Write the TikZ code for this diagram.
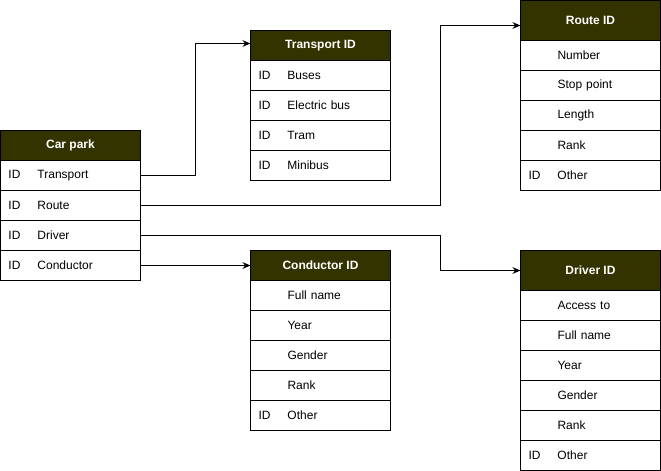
\documentclass[tikz,border=0pt]{standalone}
\usepackage{fontspec}
\setmainfont{Liberation Sans}
\usetikzlibrary{arrows.meta,positioning}
\definecolor{headOlive}{RGB}{51,51,0}
\tikzstyle{tableHead} = [
  draw,
  line width=0.75pt,
  fill=headOlive,
  text=white,
  font=\bfseries\fontsize{9}{11}\selectfont,
  minimum width=105pt,
  minimum height=22.5pt,
  inner sep=0pt,
  outer sep=0pt,
  anchor=north west]
\tikzstyle{tallHead} = [tableHead, minimum height=30pt]
\tikzstyle{tableRow} = [
  draw,
  line width=0.75pt,
  font=\fontsize{9}{11}\selectfont,
  minimum width=105pt,
  minimum height=22.5pt,
  text width=93pt,
  align=left,
  inner xsep=6pt,
  inner ysep=0pt,
  outer sep=0pt,
  anchor=north west]
\tikzstyle{link} = [-{Stealth[length=6pt,width=5pt]}, line width=0.75pt]
\newcommand{\field}[4]{\node[tableRow] (#1) at (#2.south west) {\makebox[21.75pt][l]{#3}#4};}

\begin{document}
\begin{tikzpicture}[x=0.75pt, y=-0.75pt]
  \useasboundingbox (0,0) rectangle (661,471);
  % car park
  \node[tableHead] (carpark) at (0.5,130.5) {Car park};
  \field{cpTransport}{carpark}{ID}{Transport}
  \field{cpRoute}{cpTransport}{ID}{Route}
  \field{cpDriver}{cpRoute}{ID}{Driver}
  \field{cpConductor}{cpDriver}{ID}{Conductor}
  % transport
  \node[tableHead] (transportid) at (250.5,30.5) {Transport ID};
  \field{trBuses}{transportid}{ID}{Buses}
  \field{trElectric}{trBuses}{ID}{Electric bus}
  \field{trTram}{trElectric}{ID}{Tram}
  \field{trMinibus}{trTram}{ID}{Minibus}
  % conductor
  \node[tableHead] (conductorid) at (250.5,250.5) {Conductor ID};
  \field{coName}{conductorid}{}{Full name}
  \field{coYear}{coName}{}{Year}
  \field{coGender}{coYear}{}{Gender}
  \field{coRank}{coGender}{}{Rank}
  \field{coOther}{coRank}{ID}{Other}
  % route
  \node[tallHead] (routeid) at (520.5,0.5) {Route ID};
  \field{roNumber}{routeid}{}{Number}
  \field{roStop}{roNumber}{}{Stop point}
  \field{roLength}{roStop}{}{Length}
  \field{roRank}{roLength}{}{Rank}
  \field{roOther}{roRank}{ID}{Other}
  % driver
  \node[tallHead] (driverid) at (520.5,250.5) {Driver ID};
  \field{drAccess}{driverid}{}{Access to}
  \field{drName}{drAccess}{}{Full name}
  \field{drYear}{drName}{}{Year}
  \field{drGender}{drYear}{}{Gender}
  \field{drRank}{drGender}{}{Rank}
  \field{drOther}{drRank}{ID}{Other}
  % links
  \draw[link] (cpTransport.east) -- ++(55,0) |- ([yshift=1.5pt]transportid.west);
  \draw[link] (cpRoute.east) -- ++(300,0) |- ([yshift=-3.75pt]routeid.west);
  \draw[link] (cpDriver.east) -- ++(300,0) |- (driverid.west);
  \draw[link] (cpConductor.east) -- (conductorid.west);
\end{tikzpicture}
\end{document}
